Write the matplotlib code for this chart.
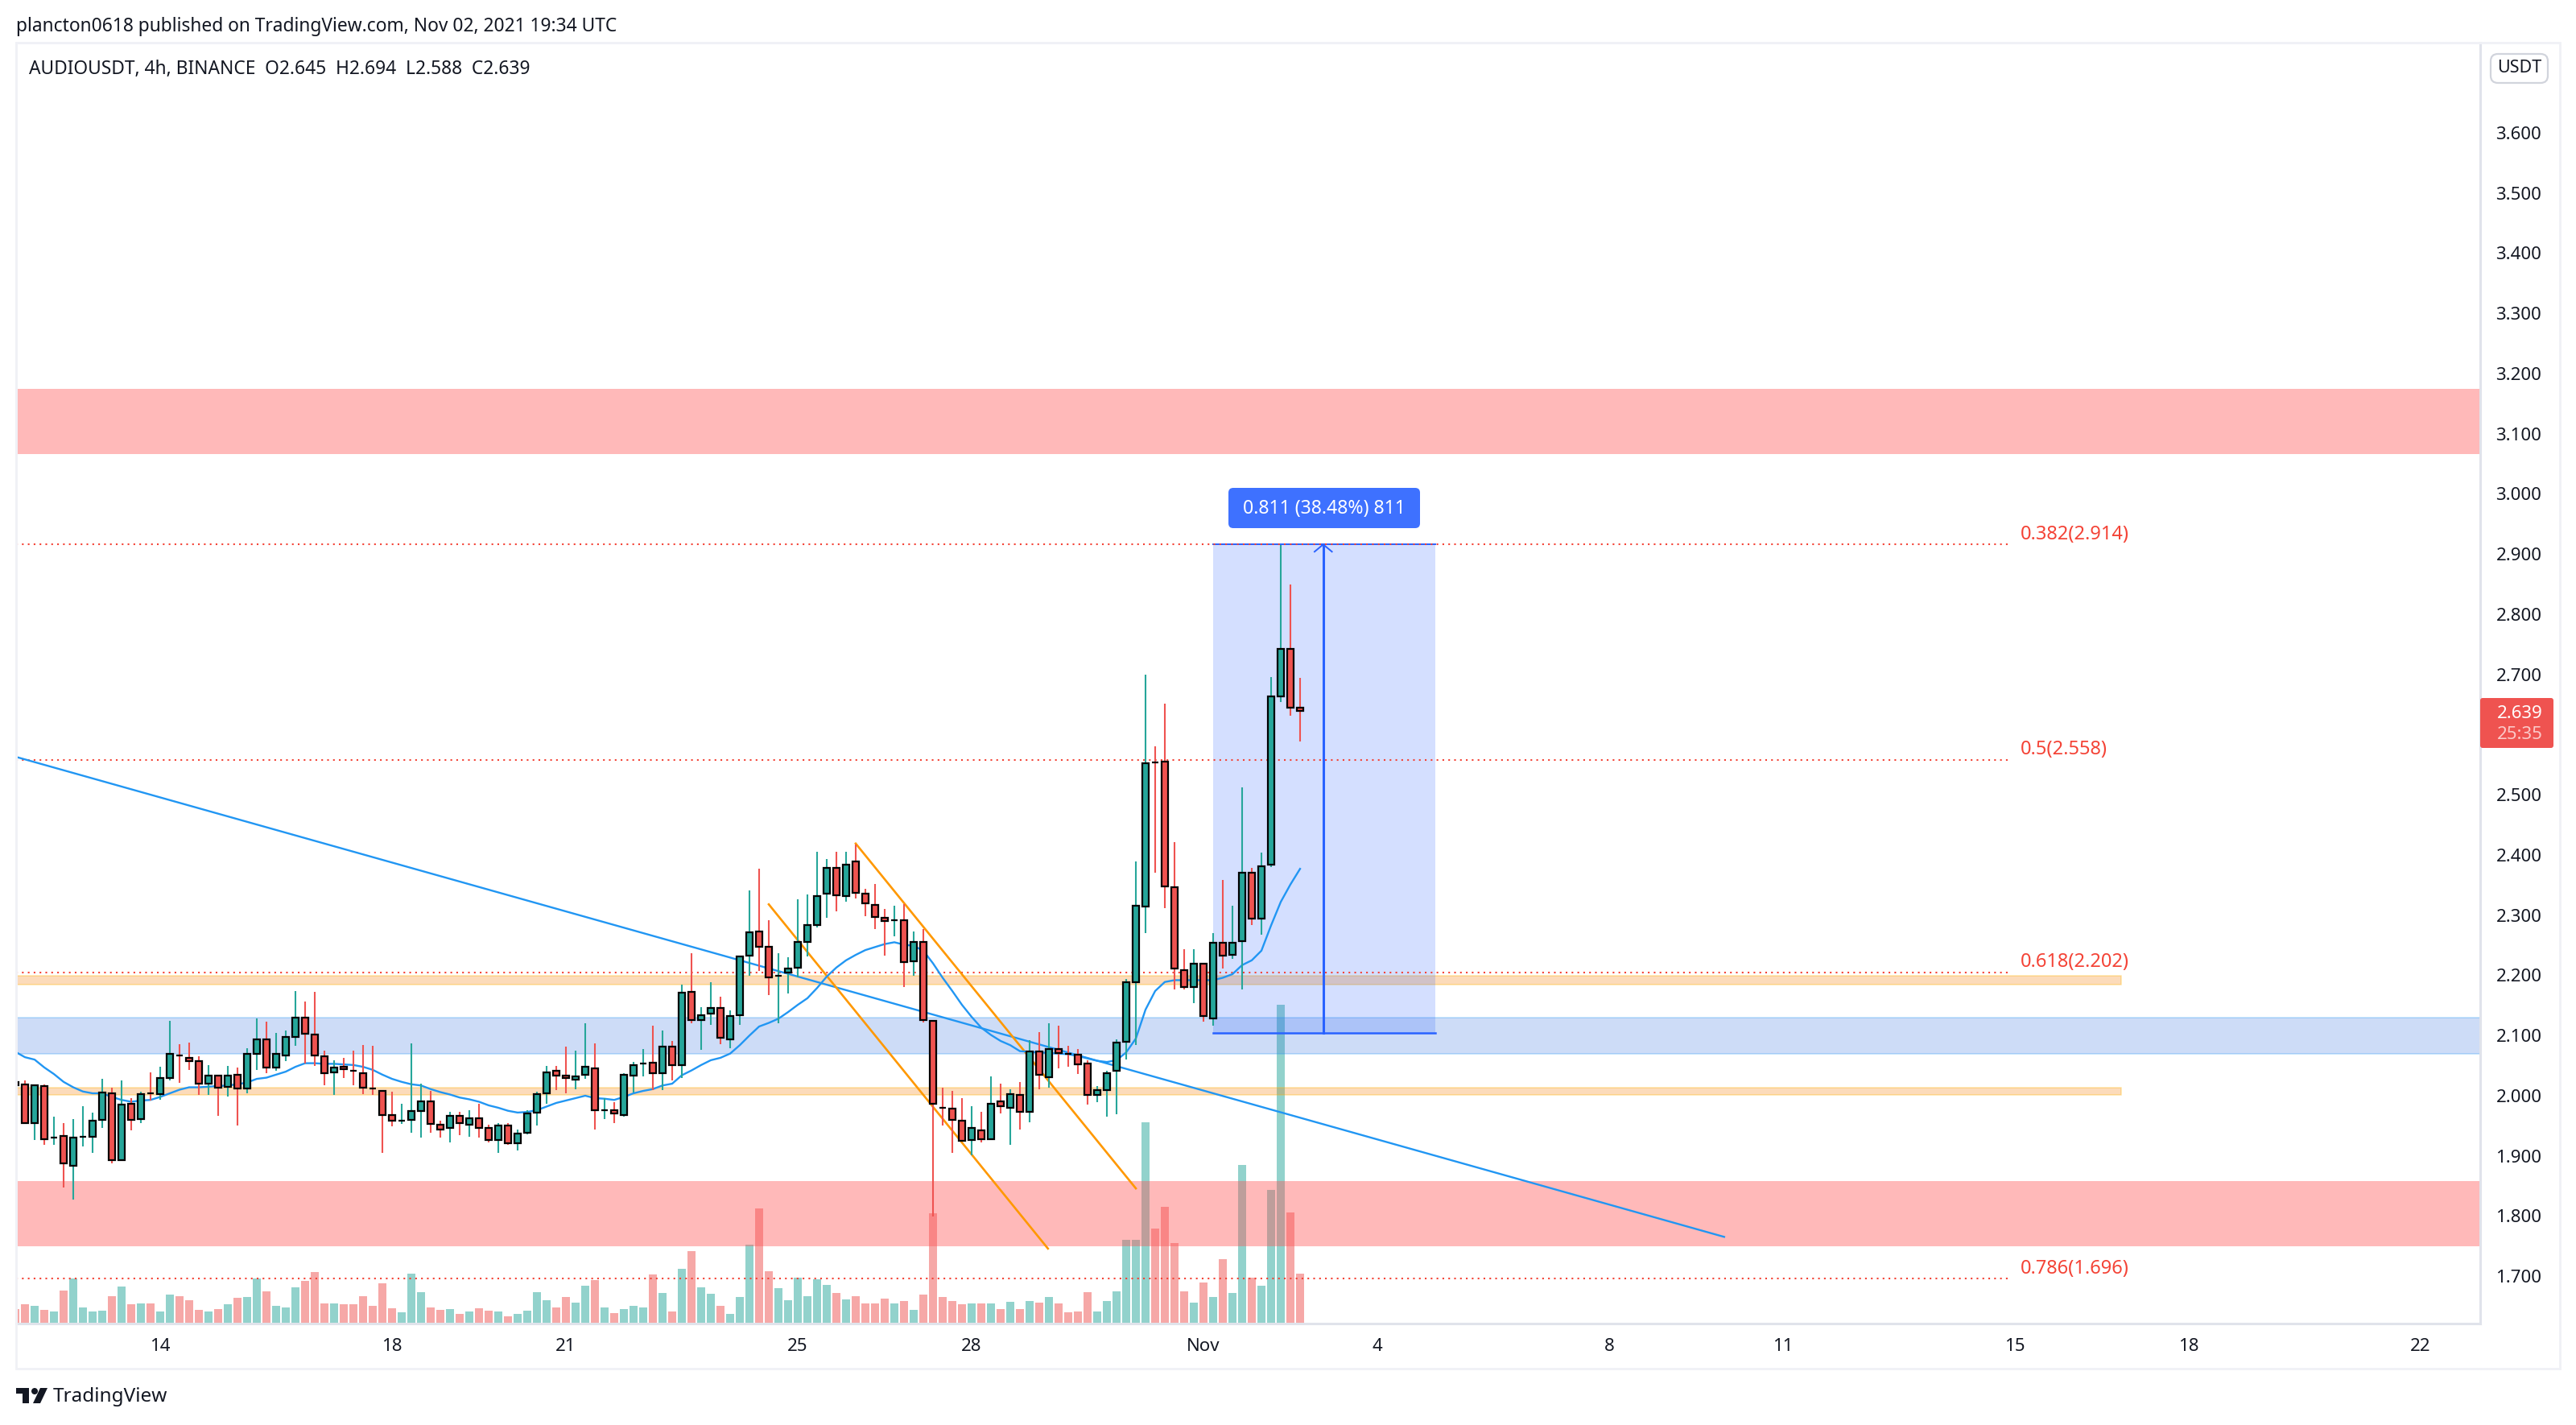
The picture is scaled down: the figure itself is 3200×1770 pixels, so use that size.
import matplotlib
matplotlib.use('Agg')
import matplotlib.pyplot as plt
import numpy as np
from matplotlib.patches import FancyBboxPatch, Polygon, Circle, Rectangle

# one bar every 4h, bar 0 sits a bit after the left edge
bar_dir = ("RRGRGRGGGG" "RGRGRGGRRR" "GRGRGGRGGG" "RRRGRRRRRR" "GGGRRGRGRR"
           "GRGGGGRRGG" "RGRGGGRGRG" "RGGRGGGRRG" "GGGGGRGRRR" "RGRGRRRRRG"
           "RGRGRGRGRR" "RRGGGGGGRR" "RRGRGRGGRG" "GGRR")

body_top = [2.023, 2.019, 2.017, 2.016, 1.931, 1.933, 1.931, 1.932, 1.959, 2.006,
            2.004, 1.985, 1.986, 2.002, 2.004, 2.030, 2.069, 2.067, 2.063, 2.058,
            2.033, 2.034, 2.034, 2.035, 2.069, 2.093, 2.093, 2.069, 2.097, 2.130,
            2.130, 2.102, 2.066, 2.047, 2.048, 2.042, 2.038, 2.012, 2.008, 1.968,
            1.959, 1.974, 1.991, 1.991, 1.952, 1.967, 1.967, 1.962, 1.963, 1.946,
            1.951, 1.951, 1.937, 1.971, 2.003, 2.039, 2.042, 2.034, 2.032, 2.048,
            2.046, 1.976, 1.976, 2.035, 2.051, 2.054, 2.055, 2.082, 2.082, 2.171,
            2.173, 2.134, 2.146, 2.146, 2.133, 2.232, 2.272, 2.273, 2.247, 2.199,
            2.212, 2.256, 2.284, 2.332, 2.379, 2.379, 2.384, 2.389, 2.336, 2.317,
            2.296, 2.291, 2.292, 2.255, 2.255, 2.125, 1.980, 1.978, 1.959, 1.946,
            1.943, 1.986, 1.990, 2.002, 2.001, 2.074, 2.074, 2.077, 2.078, 2.070,
            2.068, 2.054, 2.010, 2.038, 2.088, 2.189, 2.316, 2.552, 2.554, 2.555,
            2.347, 2.209, 2.220, 2.219, 2.254, 2.254, 2.254, 2.370, 2.370, 2.381,
            2.663, 2.743, 2.743, 2.645]
body_bot = [2.017, 1.955, 1.955, 1.928, 1.931, 1.887, 1.884, 1.932, 1.932, 1.960,
            1.893, 1.893, 1.960, 1.961, 2.004, 2.003, 2.030, 2.067, 2.057, 2.020,
            2.020, 2.014, 2.015, 2.012, 2.012, 2.070, 2.047, 2.047, 2.067, 2.098,
            2.103, 2.067, 2.038, 2.039, 2.044, 2.042, 2.014, 2.012, 1.968, 1.959,
            1.959, 1.960, 1.975, 1.953, 1.944, 1.946, 1.955, 1.952, 1.947, 1.926,
            1.926, 1.921, 1.921, 1.939, 1.972, 2.004, 2.033, 2.029, 2.027, 2.035,
            1.976, 1.976, 1.970, 1.968, 2.034, 2.054, 2.038, 2.038, 2.051, 2.051,
            2.126, 2.126, 2.137, 2.096, 2.094, 2.134, 2.233, 2.248, 2.196, 2.199,
            2.205, 2.213, 2.256, 2.284, 2.336, 2.333, 2.332, 2.337, 2.320, 2.297,
            2.290, 2.291, 2.222, 2.223, 2.126, 1.987, 1.980, 1.960, 1.925, 1.927,
            1.928, 1.928, 1.982, 1.980, 1.973, 1.973, 2.035, 2.031, 2.071, 2.070,
            2.052, 2.001, 2.001, 2.010, 2.042, 2.090, 2.189, 2.315, 2.554, 2.348,
            2.212, 2.180, 2.180, 2.133, 2.128, 2.233, 2.234, 2.257, 2.294, 2.294,
            2.384, 2.663, 2.645, 2.639]
highs = [2.030, 2.025, 2.019, 2.019, 1.965, 1.955, 1.961, 1.983, 1.972, 2.028,
         2.013, 2.025, 1.996, 2.007, 2.039, 2.048, 2.125, 2.086, 2.088, 2.066,
         2.051, 2.034, 2.050, 2.047, 2.079, 2.128, 2.123, 2.104, 2.109, 2.174,
         2.156, 2.173, 2.075, 2.059, 2.063, 2.075, 2.084, 2.083, 2.008, 2.007,
         1.987, 2.087, 2.020, 2.008, 1.959, 1.973, 1.973, 1.976, 1.987, 1.952,
         1.955, 1.955, 1.944, 1.976, 2.007, 2.050, 2.050, 2.082, 2.075, 2.121,
         2.087, 1.996, 1.989, 2.038, 2.056, 2.077, 2.116, 2.109, 2.091, 2.184,
         2.237, 2.147, 2.189, 2.165, 2.142, 2.233, 2.341, 2.377, 2.292, 2.237,
         2.230, 2.327, 2.334, 2.405, 2.393, 2.405, 2.405, 2.417, 2.344, 2.352,
         2.310, 2.316, 2.319, 2.273, 2.277, 2.125, 2.014, 2.008, 1.996, 1.982,
         1.973, 2.032, 2.020, 2.011, 2.023, 2.092, 2.106, 2.120, 2.116, 2.083,
         2.077, 2.059, 2.016, 2.042, 2.094, 2.194, 2.389, 2.699, 2.581, 2.652,
         2.422, 2.243, 2.243, 2.219, 2.270, 2.359, 2.316, 2.513, 2.378, 2.404,
         2.696, 2.915, 2.849, 2.694]
lows = [2.010, 1.953, 1.927, 1.919, 1.919, 1.848, 1.828, 1.916, 1.905, 1.946,
        1.887, 1.892, 1.943, 1.955, 1.992, 1.993, 2.026, 2.022, 2.043, 2.001,
        2.001, 1.967, 1.998, 1.950, 2.004, 2.043, 2.038, 2.042, 2.058, 2.083,
        2.053, 2.049, 2.017, 2.001, 2.030, 2.017, 2.002, 2.001, 1.905, 1.949,
        1.953, 1.939, 1.931, 1.939, 1.931, 1.923, 1.935, 1.932, 1.931, 1.923,
        1.905, 1.919, 1.909, 1.936, 1.950, 1.986, 2.010, 2.004, 2.011, 2.028,
        1.944, 1.961, 1.955, 1.965, 2.005, 2.032, 2.010, 2.010, 2.025, 2.030,
        2.120, 2.076, 2.118, 2.086, 2.079, 2.118, 2.199, 2.208, 2.167, 2.121,
        2.170, 2.196, 2.232, 2.280, 2.295, 2.306, 2.323, 2.328, 2.298, 2.277,
        2.233, 2.265, 2.180, 2.199, 2.122, 1.799, 1.950, 1.905, 1.924, 1.901,
        1.922, 1.927, 1.971, 1.919, 1.944, 1.956, 2.011, 2.014, 2.045, 2.048,
        2.036, 1.985, 1.989, 1.965, 1.969, 2.060, 2.084, 2.270, 2.370, 2.312,
        2.176, 2.176, 2.154, 2.123, 2.117, 2.211, 2.227, 2.176, 2.284, 2.267,
        2.380, 2.654, 2.631, 2.588]
ema = [2.073, 2.064, 2.060, 2.047, 2.036, 2.023, 2.014, 2.007, 2.004, 2.004,
       1.998, 1.993, 1.990, 1.992, 1.993, 1.998, 2.004, 2.010, 2.014, 2.014,
       2.015, 2.016, 2.017, 2.019, 2.022, 2.028, 2.030, 2.035, 2.040, 2.048,
       2.054, 2.054, 2.053, 2.053, 2.052, 2.051, 2.048, 2.043, 2.035, 2.028,
       2.023, 2.019, 2.017, 2.011, 2.006, 2.002, 1.997, 1.994, 1.990, 1.984,
       1.980, 1.975, 1.972, 1.973, 1.976, 1.982, 1.988, 1.992, 1.996, 2.000,
       1.996, 1.995, 1.993, 1.998, 2.004, 2.008, 2.011, 2.017, 2.020, 2.034,
       2.042, 2.051, 2.059, 2.063, 2.070, 2.084, 2.100, 2.115, 2.121, 2.128,
       2.139, 2.151, 2.162, 2.179, 2.198, 2.213, 2.225, 2.234, 2.242, 2.247,
       2.252, 2.255, 2.251, 2.249, 2.241, 2.220, 2.196, 2.174, 2.151, 2.131,
       2.113, 2.101, 2.091, 2.084, 2.074, 2.073, 2.072, 2.071, 2.070, 2.069,
       2.066, 2.062, 2.058, 2.056, 2.059, 2.072, 2.095, 2.143, 2.174, 2.189,
       2.192, 2.192, 2.192, 2.192, 2.192, 2.196, 2.202, 2.217, 2.225, 2.241,
       2.283, 2.322, 2.351, 2.377]
volume = [18, 24, 22, 17, 15, 41, 56, 20, 15, 16,
          34, 46, 24, 25, 25, 15, 36, 34, 29, 17,
          15, 18, 24, 32, 33, 56, 40, 22, 20, 45,
          53, 64, 25, 25, 24, 24, 34, 22, 50, 19,
          14, 62, 39, 20, 17, 18, 12, 15, 19, 16,
          15, 9, 12, 16, 39, 29, 20, 33, 26, 47,
          54, 20, 13, 18, 22, 20, 61, 38, 15, 68,
          90, 45, 37, 22, 12, 33, 98, 143, 65, 44,
          29, 57, 34, 55, 48, 38, 30, 34, 25, 25,
          31, 25, 28, 17, 36, 137, 33, 28, 24, 25,
          25, 25, 18, 27, 18, 28, 26, 33, 25, 14,
          15, 39, 15, 28, 40, 104, 104, 250, 118, 145,
          100, 40, 26, 51, 33, 80, 38, 197, 57, 47,
          166, 396, 138, 62]

price_ticks = [1.7, 1.8, 1.9, 2.0, 2.1, 2.2, 2.3, 2.4, 2.5, 2.6, 2.7, 2.8, 2.9,
               3.0, 3.1, 3.2, 3.3, 3.4, 3.5, 3.6]
date_bars = [14, 38, 56, 80, 98, 122, 140, 164, 182, 206, 224, 248]
date_labels = ['14', '18', '21', '25', '28', 'Nov', '4', '8', '11', '15', '18', '22']

fib_levels = [2.916, 2.558, 2.205, 1.696]
fib_labels = ['0.382(2.914)', '0.5(2.558)', '0.618(2.202)', '0.786(1.696)']

trend_x, trend_y = [-0.92, 176], [2.563, 1.765]
orange_x1, orange_y1 = [86, 115], [2.419, 1.846]
orange_x2, orange_y2 = [77, 105.9], [2.318, 1.746]

TEAL = '#26a69a'
RED = '#ef5350'
INK = '#131722'
BLUE = '#2196f3'
FONT = 'Noto Sans'
plt.rcParams['font.family'] = FONT

fig = plt.figure(figsize=(32, 17.7), dpi=100)

# axes box in pixels: 20..3081 across, 53..1644 down
ax = fig.add_axes([20/3200, 1 - 1644/1770, 3061/3200, 1591/1770])
ax_vol = ax.twinx()
ax_vol.set_zorder(ax.get_zorder() - 1)
ax.patch.set_visible(False)

x = np.arange(-1, 133)
down = np.array([c == 'R' for c in bar_dir])
colors = np.where(down, RED, TEAL)

ax_vol.bar(x, volume, width=0.8, color=colors, alpha=0.5, linewidth=0)
ax_vol.set_ylim(0, 1591)
ax_vol.axis('off')

# zones
ax.axhspan(3.066, 3.175, facecolor='#ff5252', alpha=0.4, lw=0, zorder=1)
ax.axhspan(1.750, 1.858, facecolor='#ff5252', alpha=0.4, lw=0, zorder=1)
ax.axhspan(2.070, 2.130, facecolor='#2f6fe0', alpha=0.24, edgecolor='#2196f3', lw=1.4, zorder=1)
for lo, hi in [(2.184, 2.199), (2.001, 2.014)]:
    ax.fill_between([-0.92, 217], lo, hi, facecolor='#f57c00', alpha=0.27,
                    edgecolor='#ffb300', lw=1.4, zorder=1)

# position tool
ax.fill_between([123, 146], 2.105, 2.916, facecolor='#2962ff', alpha=0.2, lw=0, zorder=1.5)
ax.plot([123, 146], [2.916, 2.916], color='#2962ff', lw=1.4, zorder=2)
ax.plot([123, 146], [2.105, 2.105], color='#2962ff', lw=1.8, zorder=2)
ax.plot([134.4, 134.4], [2.105, 2.916], color='#2962ff', lw=2.2, zorder=2)
ax.plot([133.5, 134.4, 135.3], [2.904, 2.916, 2.904], color='#2962ff', lw=1.4, zorder=2)

# fib levels
for lev, lab in zip(fib_levels, fib_labels):
    ax.plot([-0.92, 205.7], [lev, lev], color='#f44336', lw=1.5, ls=(0, (1, 2.5)), zorder=2)
    ax.annotate(lab, (206.6, lev), xytext=(0, 0.5), textcoords='offset points', color='#f44336',
                fontsize=17, va='bottom', ha='left', zorder=6)

# drawings
ax.plot(trend_x, trend_y, color=BLUE, lw=1.7, zorder=2.2, solid_capstyle='butt')
ax.plot(orange_x1, orange_y1, color='#ff9800', lw=1.9, zorder=2.2)
ax.plot(orange_x2, orange_y2, color='#ff9800', lw=1.9, zorder=2.2)
ax.plot(x, ema, color=BLUE, lw=1.7, zorder=2.5)

# candles
ax.vlines(x, lows, highs, colors=colors, lw=1.5, zorder=3)
top = np.array(body_top)
bot = np.array(body_bot)
ax.bar(x, top - bot, bottom=bot, width=0.68, color=colors, edgecolor='black', linewidth=1.6, zorder=4)

ax.set_xlim(-0.917, 254.17)
ax.set_ylim(1.6214, 3.7498)
ax.yaxis.tick_right()
ax.set_yticks(price_ticks)
ax.set_yticklabels(['%.3f' % p for p in price_ticks])
ax.set_xticks(date_bars)
ax.set_xticklabels(date_labels)
ax.tick_params(axis='y', length=0, pad=14, labelsize=16, labelcolor=INK)
ax.tick_params(axis='x', length=0, pad=13, labelsize=16, labelcolor=INK)
for side in ['left', 'top']:
    ax.spines[side].set_color('#f0f1f6')
    ax.spines[side].set_linewidth(2)
for side in ['right', 'bottom']:
    ax.spines[side].set_color('#e0e3eb')
    ax.spines[side].set_linewidth(2.2)

# overlay in pixel coordinates for the page furniture
page = fig.add_axes([0, 0, 1, 1], zorder=10)
page.set_xlim(0, 3200)
page.set_ylim(1770, 0)
page.axis('off')
page.patch.set_visible(False)

page.add_patch(Rectangle((20, 53), 3160, 1647, fill=False, edgecolor='#f0f1f6', lw=2))
page.text(20, 33, 'plancton0618 published on TradingView.com, Nov 02, 2021 19:34 UTC',
          color=INK, fontsize=16.4, va='center', ha='left')
page.text(36, 86, 'AUDIOUSDT, 4h, BINANCE  O2.645  H2.694  L2.588  C2.639',
          color=INK, fontsize=16.4, va='center', ha='left')

# currency button
page.add_patch(FancyBboxPatch((3098, 71), 63, 28, boxstyle='round,pad=4,rounding_size=9',
                              facecolor='white', edgecolor='#d1d4dc', lw=1.6))
page.text(3130, 85, 'USDT', color=INK, fontsize=15.5, va='center', ha='center')

# last price tag
page.add_patch(FancyBboxPatch((3081, 867), 91, 62, boxstyle='round,pad=0,rounding_size=3',
                              facecolor=RED, edgecolor='none'))
page.text(3130, 886, '2.639', color='white', fontsize=16, va='center', ha='center')
page.text(3130, 913, '25:35', color='#fbc9c8', fontsize=16, va='center', ha='center')

# measure label
page.add_patch(FancyBboxPatch((1526, 606), 238, 50, boxstyle='round,pad=0,rounding_size=6',
                              facecolor='#2962ff', alpha=0.9, edgecolor='none'))
page.text(1645, 632, '0.811 (38.48%) 811', color='white', fontsize=16.6, va='center', ha='center')

# logo
page.add_patch(Polygon([(20, 1724), (36, 1724), (36, 1743), (28, 1743), (28, 1731), (20, 1731)],
                       facecolor=INK, edgecolor='none'))
page.add_patch(Circle((43, 1728), 4, facecolor=INK, edgecolor='none'))
page.add_patch(Polygon([(50, 1724), (59, 1724), (50, 1743), (41, 1743)], facecolor=INK, edgecolor='none'))
page.text(66, 1735, 'TradingView', color=INK, fontsize=17.5, va='center', ha='left')

fig.savefig('out.png', dpi=100, facecolor='white')
